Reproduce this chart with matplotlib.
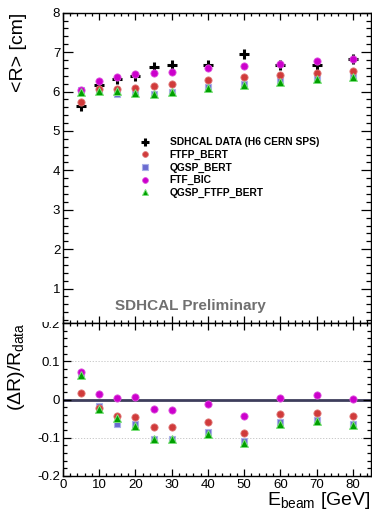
import matplotlib
matplotlib.use("Agg")
import matplotlib.pyplot as plt
from matplotlib.ticker import MultipleLocator, FixedLocator, FixedFormatter
from matplotlib.lines import Line2D
from matplotlib.patches import Rectangle

plt.rcParams['font.family'] = ['Liberation Sans', 'DejaVu Sans']
plt.rcParams['mathtext.fontset'] = 'custom'
plt.rcParams['mathtext.rm'] = 'Liberation Sans'
plt.rcParams['mathtext.it'] = 'Liberation Sans:italic'
plt.rcParams['mathtext.bf'] = 'Liberation Sans:bold'

# ------------ data ------------
energy = [5, 10, 15, 20, 25, 30, 40, 50, 60, 70, 80]

r_data = [5.64, 6.17, 6.33, 6.40, 6.62, 6.68, 6.67, 6.94, 6.67, 6.68, 6.82]
r_ftfp_bert = [5.73, 6.06, 6.07, 6.10, 6.15, 6.19, 6.29, 6.36, 6.42, 6.46, 6.53]
r_qgsp_bert = [6.03, 6.04, 5.95, 5.99, 5.94, 5.99, 6.12, 6.20, 6.29, 6.35, 6.39]
r_ftf_bic = [6.05, 6.26, 6.36, 6.44, 6.47, 6.50, 6.59, 6.66, 6.70, 6.77, 6.82]
r_qgsp_ftfp_bert = [6.00, 6.01, 6.02, 5.97, 5.94, 5.99, 6.08, 6.17, 6.25, 6.31, 6.37]

d_ftfp_bert = [0.017, -0.021, -0.044, -0.047, -0.073, -0.073, -0.058, -0.087, -0.037, -0.034, -0.042]
d_qgsp_bert = [0.069, -0.018, -0.065, -0.065, -0.104, -0.104, -0.085, -0.108, -0.058, -0.053, -0.065]
d_ftf_bic = [0.073, 0.015, 0.003, 0.007, -0.024, -0.027, -0.012, -0.042, 0.005, 0.013, 0.001]
d_qgsp_ftfp_bert = [0.065, -0.025, -0.049, -0.069, -0.104, -0.104, -0.089, -0.114, -0.063, -0.057, -0.066]

labels = ["SDHCAL DATA (H6 CERN SPS)", "FTFP_BERT", "QGSP_BERT", "FTF_BIC", "QGSP_FTFP_BERT"]
ratio_ticks = [-0.2, -0.1, 0, 0.1, 0.2]
ratio_ticklabels = ["-0.2", "-0.1", "0", "0.1", "0.2"]

# ------------ styles ------------
c_data, c_ftfp, c_qgsp, c_bic, c_qf = "black", "#d03b3b", "#6b6bd0", "#cc00cc", "#00a000"
st_data = dict(marker="+", color=c_data, ms=7, mew=2.2, ls="None")
st_ftfp = dict(marker="o", color=c_ftfp, ms=5.2, mec="#e07a7a", mew=0.6, ls="None")
st_qgsp = dict(marker="s", color=c_qgsp, ms=5.0, mec="#aab0e8", mew=0.8, ls="None")
st_bic = dict(marker="o", color=c_bic, ms=5.2, mec="#dd55dd", mew=0.6, ls="None")
st_qf = dict(marker="^", color=c_qf, ms=5.8, mec="#7be07b", mew=0.7, ls="None")

W, H = 372, 514
fig = plt.figure(figsize=(W / 100, H / 100), dpi=100)
left, width = 63 / W, 308 / W
ax1 = fig.add_axes([left, (H - 322.5) / H, width, (322.5 - 12.7) / H])
ax2 = fig.add_axes([left, (H - 476) / H, width, (476 - 323) / H])


def style_axis(ax, ymaj, ymin, ylen):
    ax.set_xlim(0, 85)
    ax.xaxis.set_major_locator(MultipleLocator(10))
    ax.xaxis.set_minor_locator(MultipleLocator(2))
    ax.yaxis.set_major_locator(MultipleLocator(ymaj))
    ax.yaxis.set_minor_locator(MultipleLocator(ymin))
    ax.tick_params(which="both", direction="in", top=True, right=True,
                   labelsize=9.5, pad=2, width=0.9, color="black")
    ax.tick_params(axis="y", which="major", length=ylen)
    ax.tick_params(axis="y", which="minor", length=ylen / 2)
    ax.tick_params(axis="x", which="major", length=5)
    ax.tick_params(axis="x", which="minor", length=2.5)
    for s in ax.spines.values():
        s.set_linewidth(1.0)


# ------------ top panel ------------
ax1.plot(energy, r_data, **st_data)
ax1.plot(energy, r_qgsp_bert, **st_qgsp)
ax1.plot(energy, r_ftfp_bert, **st_ftfp)
ax1.plot(energy, r_ftf_bic, **st_bic)
ax1.plot(energy, r_qgsp_ftfp_bert, **st_qf)
ax1.set_ylim(0.14, 8)
style_axis(ax1, 1, 0.2, 7)
ax1.tick_params(labelbottom=False)
ax1.set_ylabel("<R> [cm]", fontsize=14, loc="top")
ax1.yaxis.set_label_coords(-0.118, 1)

handles = [Line2D([0], [0], **st_data), Line2D([0], [0], **st_ftfp),
           Line2D([0], [0], **st_qgsp), Line2D([0], [0], **st_bic),
           Line2D([0], [0], **st_qf)]
for h in handles:
    h.set_markersize(h.get_markersize() * 0.8)
ax1.legend(handles=handles, labels=labels, loc="upper left",
           bbox_to_anchor=(140 / W, 1 - 137.5 / H), bbox_transform=fig.transFigure,
           frameon=False, borderpad=0, borderaxespad=0, handlelength=1.0,
           handletextpad=1.9, labelspacing=0.24,
           prop=dict(family="Liberation Sans", weight="bold", size=7.4))

fig.text(190.5 / W, 1 - 306 / H, "SDHCAL Preliminary", color="#707070",
         fontsize=11, fontweight="bold", ha="center", va="center")

# ------------ ratio panel ------------
ax2.axhline(0, color="#3d3d5c", lw=2.0, zorder=1)
for g in (0.1, -0.1):
    ax2.axhline(g, color="#c0c0c0", lw=0.6, ls=(0, (1.5, 2)), zorder=0)
ax2.plot(energy, d_qgsp_bert, **st_qgsp)
ax2.plot(energy, d_ftfp_bert, **st_ftfp)
ax2.plot(energy, d_ftf_bic, **st_bic)
ax2.plot(energy, d_qgsp_ftfp_bert, **st_qf)
ax2.set_ylim(-0.2, 0.2)
style_axis(ax2, 0.1, 0.02, 6)
ax2.yaxis.set_major_locator(FixedLocator(ratio_ticks))
ax2.yaxis.set_major_formatter(FixedFormatter(ratio_ticklabels))
ax2.set_ylabel("(ΔR)/R$_{\\mathrm{data}}$", fontsize=14, loc="top")
ax2.yaxis.set_label_coords(-0.118, 1)
ax2.set_xlabel("E$_{\\mathrm{beam}}$ [GeV]", fontsize=14, loc="right")
ax2.xaxis.set_label_coords(1, -0.09)

# the ratio pad cuts its top "0.2" label at the pad edge, as in the original
fig.add_artist(Rectangle((34 / W, (H - 322.3) / H), 28 / W, 12 / H,
                         transform=fig.transFigure, facecolor="white",
                         edgecolor="none", zorder=10))

fig.savefig("out.png", dpi=100)
